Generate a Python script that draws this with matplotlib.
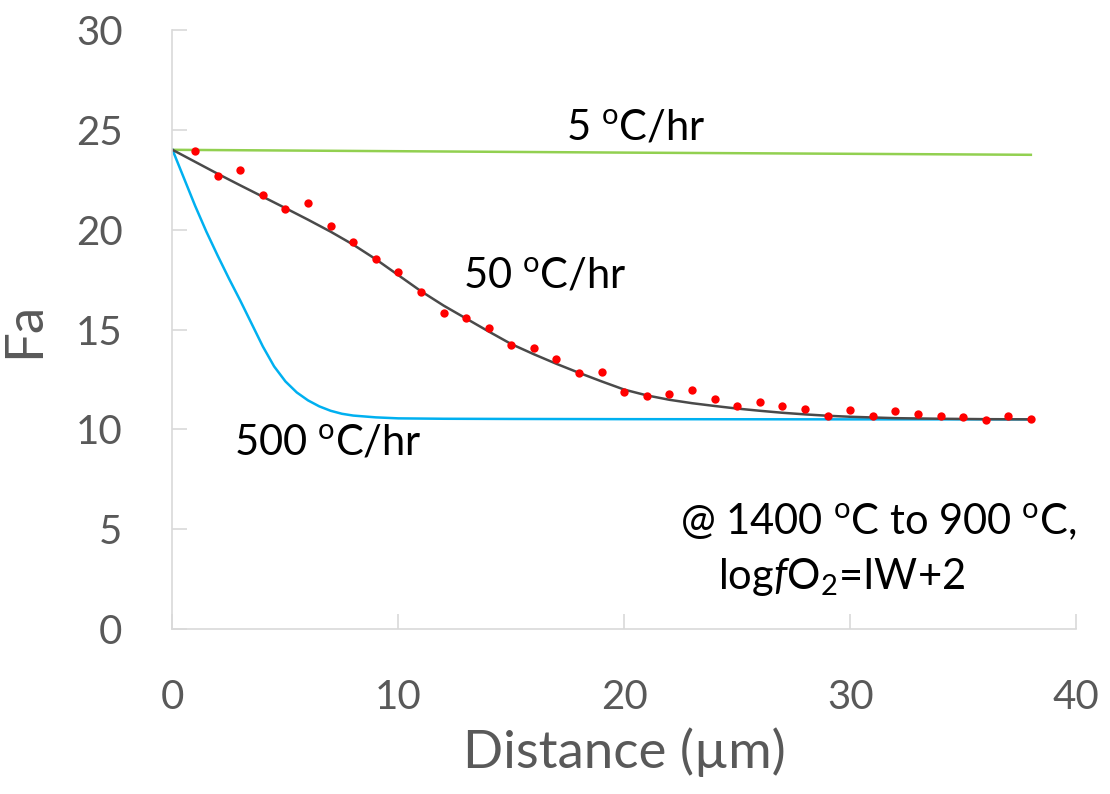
import matplotlib
matplotlib.use("Agg")
import matplotlib.pyplot as plt
import numpy as np

plt.rcParams['font.family'] = ['Lato', 'DejaVu Sans']
plt.rcParams['mathtext.fontset'] = 'custom'
plt.rcParams['mathtext.rm'] = 'Lato'
plt.rcParams['mathtext.it'] = 'Lato:italic'

# measured Fa (red dots)
dist_meas = list(range(1, 39))
fa_meas = [23.95, 22.70, 22.97, 21.73, 21.05, 21.33, 20.17, 19.36, 18.54, 17.86,
           16.86, 15.82, 15.57, 15.07, 14.22, 14.06, 13.54, 12.83, 12.85, 11.85,
           11.65, 11.78, 11.97, 11.50, 11.17, 11.35, 11.15, 11.00, 10.68, 10.95,
           10.68, 10.92, 10.75, 10.65, 10.60, 10.47, 10.65, 10.52]

# 5 C/hr model
dist_5 = [0, 10, 20, 30, 38]
fa_5 = [24.0, 23.93, 23.86, 23.80, 23.75]

# 50 C/hr model
dist_50 = [0, 1, 2, 3, 4, 5, 6, 7, 8, 9, 10, 11, 12, 13, 14, 15, 16, 17, 18, 19,
           20, 21, 22, 23, 24, 25, 26, 27, 28, 29, 30, 32, 34, 36, 38]
fa_50 = [24.0, 23.4, 22.8, 22.22, 21.65, 21.08, 20.5, 19.9, 19.25, 18.52, 17.72,
         16.92, 16.2, 15.55, 14.9, 14.27, 13.76, 13.28, 12.83, 12.4, 11.99, 11.7,
         11.48, 11.31, 11.17, 11.04, 10.93, 10.83, 10.75, 10.68, 10.63, 10.56,
         10.53, 10.51, 10.5]

# 500 C/hr model
dist_500 = [0, 0.5, 1, 1.5, 2, 2.5, 3, 3.5, 4, 4.5, 5, 5.5, 6, 6.5, 7, 7.5, 8,
            9, 10, 12, 15, 20, 30, 38]
fa_500 = [24.0, 22.6, 21.2, 19.9, 18.7, 17.55, 16.45, 15.3, 14.15, 13.15, 12.4,
          11.85, 11.45, 11.15, 10.93, 10.78, 10.69, 10.6, 10.55, 10.53, 10.52,
          10.51, 10.5, 10.5]

fig = plt.figure(figsize=(11.1, 7.94), dpi=100)
ax = fig.add_axes([0.1554, 0.2078, 0.814, 0.7544])

ax.plot(dist_5, fa_5, color='#92d050', lw=1.8)
ax.plot(dist_500, fa_500, color='#00b0f0', lw=1.8)
ax.plot(dist_50, fa_50, color='#4a4a4a', lw=1.8)
ax.plot(dist_meas, fa_meas, 'o', color='#ff0000', ms=6, mec='none')

ax.set_xlim(0, 40)
ax.set_ylim(0, 30)
ax.set_xticks([0, 10, 20, 30, 40])
ax.set_yticks([0, 5, 10, 15, 20, 25, 30])

for s in ['top', 'right']:
    ax.spines[s].set_visible(False)
for s in ['left', 'bottom']:
    ax.spines[s].set_color('#d9d9d9')
    ax.spines[s].set_linewidth(1.2)
ax.tick_params(direction='in', length=11, width=1.2, color='#d9d9d9',
               labelsize=29, labelcolor='#595959')
ax.tick_params(axis='x', pad=36)
ax.tick_params(axis='y', pad=36)

ax.set_xlabel('Distance (µm)', fontsize=38, color='#595959', labelpad=8)
ax.set_ylabel('Fa', fontsize=38, color='#595959', labelpad=20)

ax.text(20.5, 25.1, r'5 $^{\rm o}$C/hr', fontsize=30, ha='center', va='center')
ax.text(16.5, 17.7, r'50 $^{\rm o}$C/hr', fontsize=30, ha='center', va='center')
ax.text(6.9, 9.36, r'500 $^{\rm o}$C/hr', fontsize=30, ha='center', va='center')
ax.text(40, 5.36, r'@ 1400 $^{\rm o}$C to 900 $^{\rm o}$C,', fontsize=30,
        ha='right', va='center')
ax.text(29.6, 2.6, r'log$\it{f}$O$_2$=IW+2', fontsize=30, ha='center', va='center')

fig.savefig('out.png', dpi=100)
